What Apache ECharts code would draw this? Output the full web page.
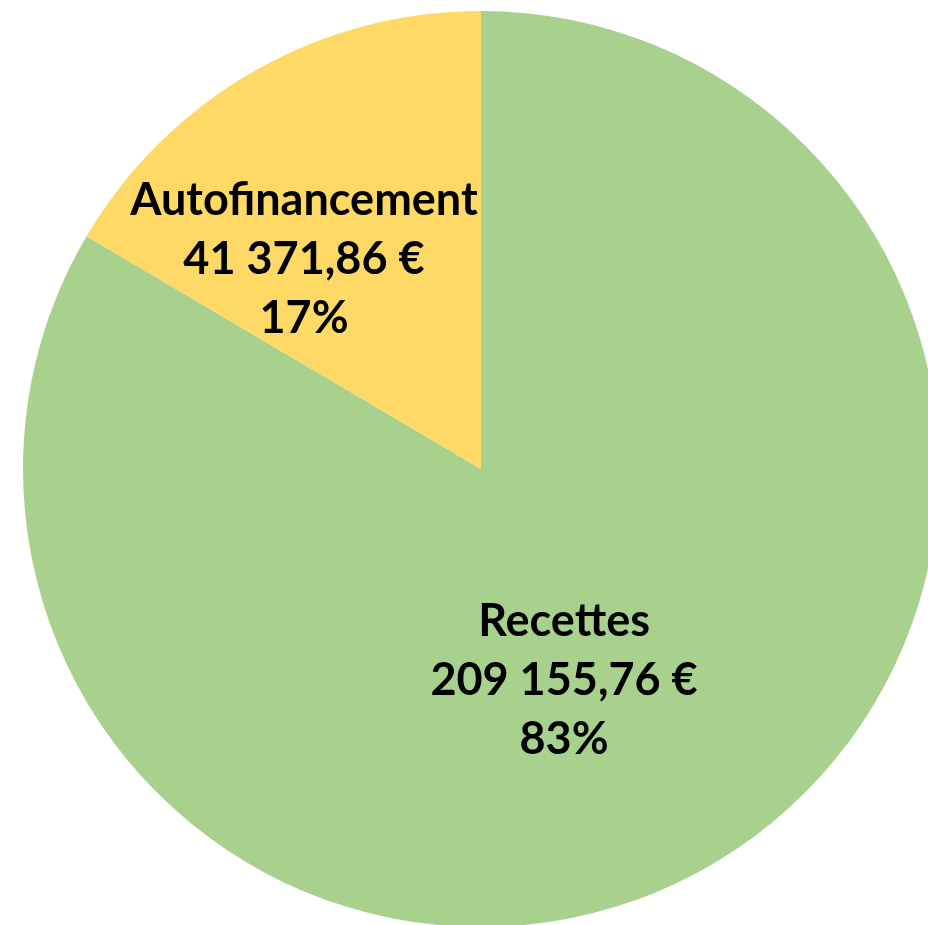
<!DOCTYPE html>
<html>
<head>
<meta charset="utf-8">
<script src="https://cdn.jsdelivr.net/npm/echarts@6/dist/echarts.min.js"></script>
<style>
  html, body { margin: 0; padding: 0; background: #fff; }
  #chart { width: 928px; height: 925px; }
</style>
</head>
<body>
<div id="chart"></div>
<script>
// catégories et montants (€)
const categories = ['Recettes', 'Autofinancement'];
const amounts = [209155.76, 41371.86];
const colors = ['#A9D18E', '#FFD966'];

// décalage des étiquettes par rapport à la position "inside" par défaut
const labelShift = [[-32, 10], [-62, -8]];

const fmtEuro = (v) => {
  const parts = v.toFixed(2).split('.');
  const ent = parts[0].replace(/\B(?=(\d{3})+(?!\d))/g, ' ');
  return ent + ',' + parts[1] + ' €';
};

const total = amounts.reduce((a, b) => a + b, 0);

const myChart = echarts.init(document.getElementById('chart'));
const option = {
  animation: false,
  series: [
    {
      type: 'pie',
      center: [481, 469],
      radius: 458,
      startAngle: 90,
      clockwise: true,
      avoidLabelOverlap: false,
      itemStyle: { borderWidth: 0 },
      label: {
        show: true,
        position: 'inside',
        color: '#000',
        fontFamily: 'Lato',
        fontWeight: 'bold',
        fontSize: 45,
        lineHeight: 59,
        align: 'center',
        formatter: (p) => p.name + '\n' + fmtEuro(p.value) + '\n' + Math.round(p.value / total * 100) + '%'
      },
      labelLine: { show: false },
      labelLayout: (p) => ({ dx: labelShift[p.dataIndex][0], dy: labelShift[p.dataIndex][1] }),
      emphasis: { disabled: true },
      data: categories.map((c, i) => ({
        name: c,
        value: amounts[i],
        itemStyle: { color: colors[i] }
      }))
    }
  ]
};
option && myChart.setOption(option);
</script>
</body>
</html>
